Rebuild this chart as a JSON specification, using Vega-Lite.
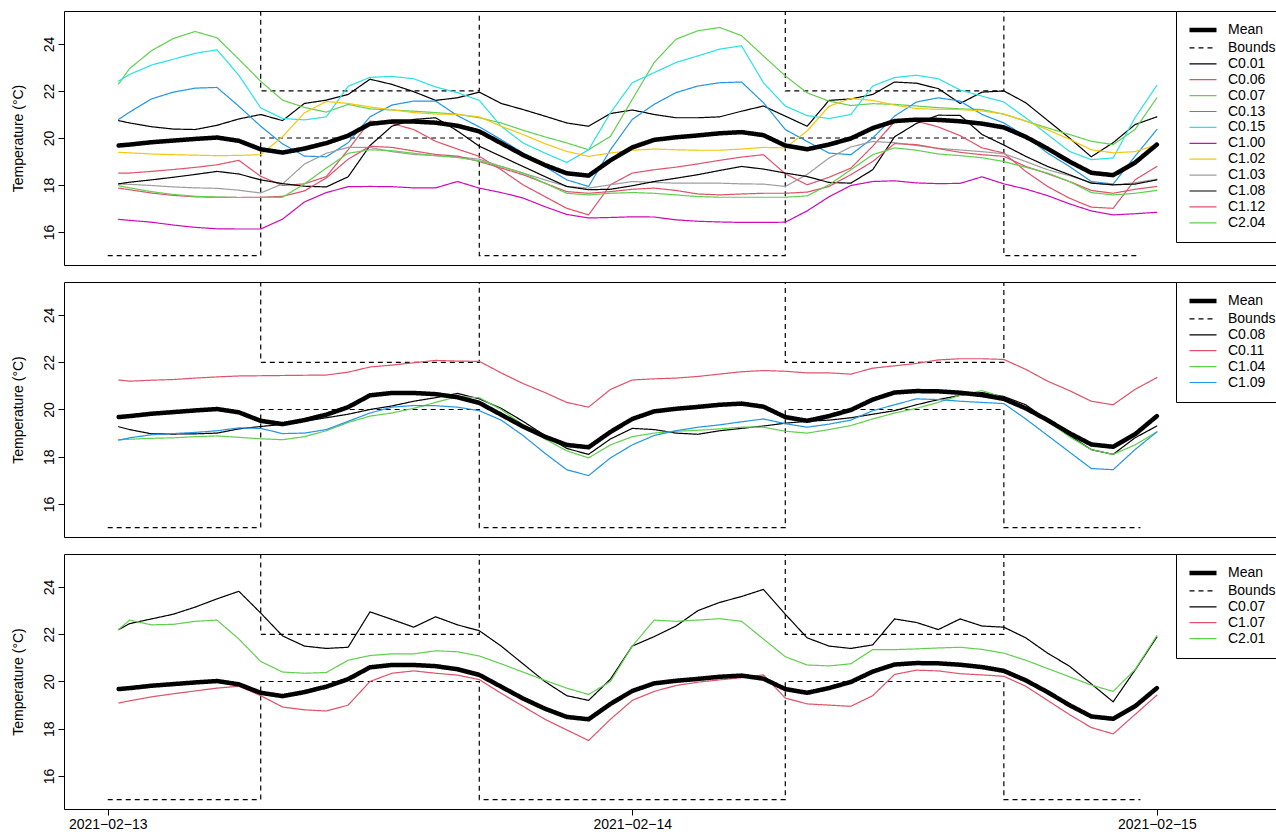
{
"$schema":"https://vega.github.io/schema/vega-lite/v6.json",
"background":"white",
"padding":{"left":10,"top":10,"right":0,"bottom":0},
"spacing":15,
"config":{
"font":"Liberation Sans",
"view":{"stroke":"black","strokeWidth":1},
"axis":{"domain":false,"grid":false,"tickColor":"black","labelColor":"black","titleColor":"black","labelFontSize":14,"titleFontSize":14,"titleFontWeight":"normal","tickSize":6,"labelFont":"Liberation Sans","titleFont":"Liberation Sans"},
"legend":{"orient":"none","legendX":1112,"legendY":0,"fillColor":"white","strokeColor":"black","strokeWidth":1,"padding":12,"labelFontSize":14,"labelFont":"Liberation Sans","labelColor":"black","symbolType":"M-3,0H3","symbolSize":81,"symbolOffset":8,"labelOffset":18,"rowPadding":1.9,"labelLimit":0}
},
"datasets":{
"bounds":[
{"s":"Bounds","p":"lo","h":0,"v":15},{"s":"Bounds","p":"lo","h":7,"v":20},{"s":"Bounds","p":"lo","h":17,"v":15},{"s":"Bounds","p":"lo","h":31,"v":20},{"s":"Bounds","p":"lo","h":41,"v":15},{"s":"Bounds","p":"lo","h":47.25,"v":15},
{"s":"Bounds","p":"up","h":0,"v":30},{"s":"Bounds","p":"up","h":7,"v":22},{"s":"Bounds","p":"up","h":17,"v":30},{"s":"Bounds","p":"up","h":31,"v":22},{"s":"Bounds","p":"up","h":41,"v":30},{"s":"Bounds","p":"up","h":47.25,"v":30}
],
"mean":[
{"s":"Mean","h":0.5,"v":19.68},{"s":"Mean","h":1,"v":19.72},{"s":"Mean","h":2,"v":19.82},{"s":"Mean","h":3,"v":19.89},{"s":"Mean","h":4,"v":19.96},{"s":"Mean","h":5,"v":20.02},{"s":"Mean","h":6,"v":19.88},{"s":"Mean","h":7,"v":19.52},{"s":"Mean","h":8,"v":19.38},{"s":"Mean","h":9,"v":19.55},{"s":"Mean","h":10,"v":19.78},{"s":"Mean","h":11,"v":20.1},{"s":"Mean","h":12,"v":20.6},{"s":"Mean","h":13,"v":20.7},{"s":"Mean","h":14,"v":20.7},{"s":"Mean","h":15,"v":20.65},{"s":"Mean","h":16,"v":20.52},{"s":"Mean","h":17,"v":20.28},{"s":"Mean","h":18,"v":19.78},{"s":"Mean","h":19,"v":19.28},{"s":"Mean","h":20,"v":18.85},{"s":"Mean","h":21,"v":18.5},{"s":"Mean","h":22,"v":18.4},{"s":"Mean","h":23,"v":19.05},{"s":"Mean","h":24,"v":19.6},{"s":"Mean","h":25,"v":19.92},{"s":"Mean","h":26,"v":20.03},{"s":"Mean","h":27,"v":20.11},{"s":"Mean","h":28,"v":20.2},{"s":"Mean","h":29,"v":20.25},{"s":"Mean","h":30,"v":20.12},{"s":"Mean","h":31,"v":19.68},{"s":"Mean","h":32,"v":19.52},{"s":"Mean","h":33,"v":19.72},{"s":"Mean","h":34,"v":19.98},{"s":"Mean","h":35,"v":20.42},{"s":"Mean","h":36,"v":20.72},{"s":"Mean","h":37,"v":20.78},{"s":"Mean","h":38,"v":20.77},{"s":"Mean","h":39,"v":20.71},{"s":"Mean","h":40,"v":20.61},{"s":"Mean","h":41,"v":20.45},{"s":"Mean","h":42,"v":20.05},{"s":"Mean","h":43,"v":19.55},{"s":"Mean","h":44,"v":19.0},{"s":"Mean","h":45,"v":18.52},{"s":"Mean","h":46,"v":18.42},{"s":"Mean","h":47,"v":18.95},{"s":"Mean","h":48,"v":19.72}
],
"p1":[
{"s":"C0.01","h":0.5,"v":20.74},{"s":"C0.01","h":1,"v":20.64},{"s":"C0.01","h":2,"v":20.48},{"s":"C0.01","h":3,"v":20.38},{"s":"C0.01","h":4,"v":20.36},{"s":"C0.01","h":5,"v":20.54},{"s":"C0.01","h":6,"v":20.81},{"s":"C0.01","h":7,"v":21.0},{"s":"C0.01","h":8,"v":20.74},{"s":"C0.01","h":9,"v":21.47},{"s":"C0.01","h":10,"v":21.61},{"s":"C0.01","h":11,"v":21.85},{"s":"C0.01","h":12,"v":22.5},{"s":"C0.01","h":13,"v":22.28},{"s":"C0.01","h":14,"v":21.97},{"s":"C0.01","h":15,"v":21.6},{"s":"C0.01","h":16,"v":21.71},{"s":"C0.01","h":17,"v":21.95},{"s":"C0.01","h":18,"v":21.47},{"s":"C0.01","h":19,"v":21.21},{"s":"C0.01","h":20,"v":20.93},{"s":"C0.01","h":21,"v":20.64},{"s":"C0.01","h":22,"v":20.5},{"s":"C0.01","h":23,"v":21.04},{"s":"C0.01","h":24,"v":21.19},{"s":"C0.01","h":25,"v":21.0},{"s":"C0.01","h":26,"v":20.86},{"s":"C0.01","h":27,"v":20.86},{"s":"C0.01","h":28,"v":20.9},{"s":"C0.01","h":29,"v":21.14},{"s":"C0.01","h":30,"v":21.36},{"s":"C0.01","h":31,"v":20.93},{"s":"C0.01","h":32,"v":20.5},{"s":"C0.01","h":33,"v":21.6},{"s":"C0.01","h":34,"v":21.66},{"s":"C0.01","h":35,"v":21.85},{"s":"C0.01","h":36,"v":22.38},{"s":"C0.01","h":37,"v":22.33},{"s":"C0.01","h":38,"v":22.1},{"s":"C0.01","h":39,"v":21.47},{"s":"C0.01","h":40,"v":21.95},{"s":"C0.01","h":41,"v":22.0},{"s":"C0.01","h":42,"v":21.5},{"s":"C0.01","h":43,"v":20.75},{"s":"C0.01","h":44,"v":20.0},{"s":"C0.01","h":45,"v":19.2},{"s":"C0.01","h":46,"v":19.8},{"s":"C0.01","h":47,"v":20.57},{"s":"C0.01","h":48,"v":20.9},
{"s":"C0.06","h":0.5,"v":18.51},{"s":"C0.06","h":1,"v":18.51},{"s":"C0.06","h":2,"v":18.58},{"s":"C0.06","h":3,"v":18.66},{"s":"C0.06","h":4,"v":18.75},{"s":"C0.06","h":5,"v":18.86},{"s":"C0.06","h":6,"v":19.05},{"s":"C0.06","h":7,"v":18.37},{"s":"C0.06","h":8,"v":17.98},{"s":"C0.06","h":9,"v":18.05},{"s":"C0.06","h":10,"v":18.36},{"s":"C0.06","h":11,"v":19.5},{"s":"C0.06","h":12,"v":20.72},{"s":"C0.06","h":13,"v":20.62},{"s":"C0.06","h":14,"v":20.36},{"s":"C0.06","h":15,"v":19.86},{"s":"C0.06","h":16,"v":19.53},{"s":"C0.06","h":17,"v":19.22},{"s":"C0.06","h":18,"v":18.65},{"s":"C0.06","h":19,"v":18.01},{"s":"C0.06","h":20,"v":17.51},{"s":"C0.06","h":21,"v":17.01},{"s":"C0.06","h":22,"v":16.73},{"s":"C0.06","h":23,"v":18.01},{"s":"C0.06","h":24,"v":18.51},{"s":"C0.06","h":25,"v":18.65},{"s":"C0.06","h":26,"v":18.76},{"s":"C0.06","h":27,"v":18.9},{"s":"C0.06","h":28,"v":19.05},{"s":"C0.06","h":29,"v":19.19},{"s":"C0.06","h":30,"v":19.29},{"s":"C0.06","h":31,"v":18.48},{"s":"C0.06","h":32,"v":18.01},{"s":"C0.06","h":33,"v":18.33},{"s":"C0.06","h":34,"v":18.72},{"s":"C0.06","h":35,"v":19.65},{"s":"C0.06","h":36,"v":20.69},{"s":"C0.06","h":37,"v":20.72},{"s":"C0.06","h":38,"v":20.47},{"s":"C0.06","h":39,"v":20.1},{"s":"C0.06","h":40,"v":19.58},{"s":"C0.06","h":41,"v":19.36},{"s":"C0.06","h":42,"v":18.58},{"s":"C0.06","h":43,"v":17.94},{"s":"C0.06","h":44,"v":17.44},{"s":"C0.06","h":45,"v":17.06},{"s":"C0.06","h":46,"v":17.01},{"s":"C0.06","h":47,"v":18.22},{"s":"C0.06","h":48,"v":18.79},
{"s":"C0.07","h":0.5,"v":22.3},{"s":"C0.07","h":1,"v":22.95},{"s":"C0.07","h":2,"v":23.71},{"s":"C0.07","h":3,"v":24.23},{"s":"C0.07","h":4,"v":24.53},{"s":"C0.07","h":5,"v":24.26},{"s":"C0.07","h":6,"v":23.35},{"s":"C0.07","h":7,"v":22.41},{"s":"C0.07","h":8,"v":21.61},{"s":"C0.07","h":9,"v":21.3},{"s":"C0.07","h":10,"v":21.1},{"s":"C0.07","h":11,"v":21.43},{"s":"C0.07","h":12,"v":21.24},{"s":"C0.07","h":13,"v":21.19},{"s":"C0.07","h":14,"v":21.14},{"s":"C0.07","h":15,"v":21.08},{"s":"C0.07","h":16,"v":21.01},{"s":"C0.07","h":17,"v":20.86},{"s":"C0.07","h":18,"v":20.64},{"s":"C0.07","h":19,"v":20.33},{"s":"C0.07","h":20,"v":20.05},{"s":"C0.07","h":21,"v":19.79},{"s":"C0.07","h":22,"v":19.5},{"s":"C0.07","h":23,"v":20.07},{"s":"C0.07","h":24,"v":21.64},{"s":"C0.07","h":25,"v":23.21},{"s":"C0.07","h":26,"v":24.2},{"s":"C0.07","h":27,"v":24.56},{"s":"C0.07","h":28,"v":24.7},{"s":"C0.07","h":29,"v":24.35},{"s":"C0.07","h":30,"v":23.49},{"s":"C0.07","h":31,"v":22.64},{"s":"C0.07","h":32,"v":21.92},{"s":"C0.07","h":33,"v":21.57},{"s":"C0.07","h":34,"v":21.38},{"s":"C0.07","h":35,"v":21.46},{"s":"C0.07","h":36,"v":21.43},{"s":"C0.07","h":37,"v":21.36},{"s":"C0.07","h":38,"v":21.29},{"s":"C0.07","h":39,"v":21.24},{"s":"C0.07","h":40,"v":21.21},{"s":"C0.07","h":41,"v":21.01},{"s":"C0.07","h":42,"v":20.72},{"s":"C0.07","h":43,"v":20.43},{"s":"C0.07","h":44,"v":20.15},{"s":"C0.07","h":45,"v":19.86},{"s":"C0.07","h":46,"v":19.72},{"s":"C0.07","h":47,"v":20.36},{"s":"C0.07","h":48,"v":21.71},
{"s":"C0.13","h":0.5,"v":20.79},{"s":"C0.13","h":1,"v":21.1},{"s":"C0.13","h":2,"v":21.66},{"s":"C0.13","h":3,"v":21.95},{"s":"C0.13","h":4,"v":22.12},{"s":"C0.13","h":5,"v":22.15},{"s":"C0.13","h":6,"v":21.35},{"s":"C0.13","h":7,"v":20.5},{"s":"C0.13","h":8,"v":19.75},{"s":"C0.13","h":9,"v":19.23},{"s":"C0.13","h":10,"v":19.2},{"s":"C0.13","h":11,"v":19.8},{"s":"C0.13","h":12,"v":20.9},{"s":"C0.13","h":13,"v":21.4},{"s":"C0.13","h":14,"v":21.57},{"s":"C0.13","h":15,"v":21.57},{"s":"C0.13","h":16,"v":20.95},{"s":"C0.13","h":17,"v":20.47},{"s":"C0.13","h":18,"v":19.93},{"s":"C0.13","h":19,"v":19.36},{"s":"C0.13","h":20,"v":18.79},{"s":"C0.13","h":21,"v":18.22},{"s":"C0.13","h":22,"v":17.94},{"s":"C0.13","h":23,"v":19.5},{"s":"C0.13","h":24,"v":20.79},{"s":"C0.13","h":25,"v":21.43},{"s":"C0.13","h":26,"v":21.93},{"s":"C0.13","h":27,"v":22.21},{"s":"C0.13","h":28,"v":22.35},{"s":"C0.13","h":29,"v":22.38},{"s":"C0.13","h":30,"v":21.5},{"s":"C0.13","h":31,"v":20.36},{"s":"C0.13","h":32,"v":19.85},{"s":"C0.13","h":33,"v":19.36},{"s":"C0.13","h":34,"v":19.29},{"s":"C0.13","h":35,"v":20.0},{"s":"C0.13","h":36,"v":20.93},{"s":"C0.13","h":37,"v":21.53},{"s":"C0.13","h":38,"v":21.71},{"s":"C0.13","h":39,"v":21.57},{"s":"C0.13","h":40,"v":21.0},{"s":"C0.13","h":41,"v":20.64},{"s":"C0.13","h":42,"v":20.07},{"s":"C0.13","h":43,"v":19.36},{"s":"C0.13","h":44,"v":18.79},{"s":"C0.13","h":45,"v":18.15},{"s":"C0.13","h":46,"v":18.04},{"s":"C0.13","h":47,"v":19.22},{"s":"C0.13","h":48,"v":20.36},
{"s":"C0.15","h":0.5,"v":22.42},{"s":"C0.15","h":1,"v":22.7},{"s":"C0.15","h":2,"v":23.1},{"s":"C0.15","h":3,"v":23.35},{"s":"C0.15","h":4,"v":23.6},{"s":"C0.15","h":5,"v":23.75},{"s":"C0.15","h":6,"v":22.67},{"s":"C0.15","h":7,"v":21.28},{"s":"C0.15","h":8,"v":20.83},{"s":"C0.15","h":9,"v":20.77},{"s":"C0.15","h":10,"v":20.9},{"s":"C0.15","h":11,"v":22.2},{"s":"C0.15","h":12,"v":22.58},{"s":"C0.15","h":13,"v":22.62},{"s":"C0.15","h":14,"v":22.52},{"s":"C0.15","h":15,"v":22.17},{"s":"C0.15","h":16,"v":21.93},{"s":"C0.15","h":17,"v":21.6},{"s":"C0.15","h":18,"v":20.5},{"s":"C0.15","h":19,"v":19.79},{"s":"C0.15","h":20,"v":19.36},{"s":"C0.15","h":21,"v":18.96},{"s":"C0.15","h":22,"v":19.5},{"s":"C0.15","h":23,"v":21.07},{"s":"C0.15","h":24,"v":22.35},{"s":"C0.15","h":25,"v":22.78},{"s":"C0.15","h":26,"v":23.21},{"s":"C0.15","h":27,"v":23.49},{"s":"C0.15","h":28,"v":23.78},{"s":"C0.15","h":29,"v":23.92},{"s":"C0.15","h":30,"v":22.35},{"s":"C0.15","h":31,"v":21.36},{"s":"C0.15","h":32,"v":20.95},{"s":"C0.15","h":33,"v":20.83},{"s":"C0.15","h":34,"v":21.0},{"s":"C0.15","h":35,"v":22.21},{"s":"C0.15","h":36,"v":22.57},{"s":"C0.15","h":37,"v":22.67},{"s":"C0.15","h":38,"v":22.52},{"s":"C0.15","h":39,"v":22.04},{"s":"C0.15","h":40,"v":21.78},{"s":"C0.15","h":41,"v":21.53},{"s":"C0.15","h":42,"v":20.86},{"s":"C0.15","h":43,"v":20.15},{"s":"C0.15","h":44,"v":19.43},{"s":"C0.15","h":45,"v":19.08},{"s":"C0.15","h":46,"v":19.15},{"s":"C0.15","h":47,"v":20.86},{"s":"C0.15","h":48,"v":22.24},
{"s":"C1.00","h":0.5,"v":16.54},{"s":"C1.00","h":1,"v":16.5},{"s":"C1.00","h":2,"v":16.42},{"s":"C1.00","h":3,"v":16.3},{"s":"C1.00","h":4,"v":16.2},{"s":"C1.00","h":5,"v":16.14},{"s":"C1.00","h":6,"v":16.13},{"s":"C1.00","h":7,"v":16.13},{"s":"C1.00","h":8,"v":16.55},{"s":"C1.00","h":9,"v":17.28},{"s":"C1.00","h":10,"v":17.68},{"s":"C1.00","h":11,"v":17.93},{"s":"C1.00","h":12,"v":17.94},{"s":"C1.00","h":13,"v":17.93},{"s":"C1.00","h":14,"v":17.88},{"s":"C1.00","h":15,"v":17.88},{"s":"C1.00","h":16,"v":18.15},{"s":"C1.00","h":17,"v":17.87},{"s":"C1.00","h":18,"v":17.68},{"s":"C1.00","h":19,"v":17.45},{"s":"C1.00","h":20,"v":17.08},{"s":"C1.00","h":21,"v":16.75},{"s":"C1.00","h":22,"v":16.6},{"s":"C1.00","h":23,"v":16.62},{"s":"C1.00","h":24,"v":16.65},{"s":"C1.00","h":25,"v":16.64},{"s":"C1.00","h":26,"v":16.52},{"s":"C1.00","h":27,"v":16.46},{"s":"C1.00","h":28,"v":16.43},{"s":"C1.00","h":29,"v":16.41},{"s":"C1.00","h":30,"v":16.41},{"s":"C1.00","h":31,"v":16.42},{"s":"C1.00","h":32,"v":16.9},{"s":"C1.00","h":33,"v":17.5},{"s":"C1.00","h":34,"v":17.98},{"s":"C1.00","h":35,"v":18.15},{"s":"C1.00","h":36,"v":18.18},{"s":"C1.00","h":37,"v":18.09},{"s":"C1.00","h":38,"v":18.06},{"s":"C1.00","h":39,"v":18.07},{"s":"C1.00","h":40,"v":18.35},{"s":"C1.00","h":41,"v":18.05},{"s":"C1.00","h":42,"v":17.83},{"s":"C1.00","h":43,"v":17.55},{"s":"C1.00","h":44,"v":17.2},{"s":"C1.00","h":45,"v":16.9},{"s":"C1.00","h":46,"v":16.73},{"s":"C1.00","h":47,"v":16.78},{"s":"C1.00","h":48,"v":16.84},
{"s":"C1.02","h":0.5,"v":19.39},{"s":"C1.02","h":1,"v":19.37},{"s":"C1.02","h":2,"v":19.32},{"s":"C1.02","h":3,"v":19.29},{"s":"C1.02","h":4,"v":19.27},{"s":"C1.02","h":5,"v":19.25},{"s":"C1.02","h":6,"v":19.26},{"s":"C1.02","h":7,"v":19.29},{"s":"C1.02","h":8,"v":20.06},{"s":"C1.02","h":9,"v":21.07},{"s":"C1.02","h":10,"v":21.55},{"s":"C1.02","h":11,"v":21.47},{"s":"C1.02","h":12,"v":21.32},{"s":"C1.02","h":13,"v":21.2},{"s":"C1.02","h":14,"v":21.08},{"s":"C1.02","h":15,"v":21.02},{"s":"C1.02","h":16,"v":21.0},{"s":"C1.02","h":17,"v":20.9},{"s":"C1.02","h":18,"v":20.5},{"s":"C1.02","h":19,"v":20.15},{"s":"C1.02","h":20,"v":19.76},{"s":"C1.02","h":21,"v":19.43},{"s":"C1.02","h":22,"v":19.22},{"s":"C1.02","h":23,"v":19.36},{"s":"C1.02","h":24,"v":19.48},{"s":"C1.02","h":25,"v":19.53},{"s":"C1.02","h":26,"v":19.5},{"s":"C1.02","h":27,"v":19.48},{"s":"C1.02","h":28,"v":19.48},{"s":"C1.02","h":29,"v":19.53},{"s":"C1.02","h":30,"v":19.6},{"s":"C1.02","h":31,"v":19.58},{"s":"C1.02","h":32,"v":20.3},{"s":"C1.02","h":33,"v":21.35},{"s":"C1.02","h":34,"v":21.68},{"s":"C1.02","h":35,"v":21.6},{"s":"C1.02","h":36,"v":21.4},{"s":"C1.02","h":37,"v":21.25},{"s":"C1.02","h":38,"v":21.22},{"s":"C1.02","h":39,"v":21.21},{"s":"C1.02","h":40,"v":21.15},{"s":"C1.02","h":41,"v":21.02},{"s":"C1.02","h":42,"v":20.72},{"s":"C1.02","h":43,"v":20.35},{"s":"C1.02","h":44,"v":19.95},{"s":"C1.02","h":45,"v":19.5},{"s":"C1.02","h":46,"v":19.37},{"s":"C1.02","h":47,"v":19.42},{"s":"C1.02","h":48,"v":19.72},
{"s":"C1.03","h":0.5,"v":18.05},{"s":"C1.03","h":1,"v":18.03},{"s":"C1.03","h":2,"v":17.98},{"s":"C1.03","h":3,"v":17.92},{"s":"C1.03","h":4,"v":17.88},{"s":"C1.03","h":5,"v":17.86},{"s":"C1.03","h":6,"v":17.78},{"s":"C1.03","h":7,"v":17.66},{"s":"C1.03","h":8,"v":18.05},{"s":"C1.03","h":9,"v":18.89},{"s":"C1.03","h":10,"v":19.35},{"s":"C1.03","h":11,"v":19.6},{"s":"C1.03","h":12,"v":19.6},{"s":"C1.03","h":13,"v":19.42},{"s":"C1.03","h":14,"v":19.3},{"s":"C1.03","h":15,"v":19.25},{"s":"C1.03","h":16,"v":19.2},{"s":"C1.03","h":17,"v":19.1},{"s":"C1.03","h":18,"v":18.79},{"s":"C1.03","h":19,"v":18.51},{"s":"C1.03","h":20,"v":18.22},{"s":"C1.03","h":21,"v":17.94},{"s":"C1.03","h":22,"v":17.87},{"s":"C1.03","h":23,"v":18.01},{"s":"C1.03","h":24,"v":18.15},{"s":"C1.03","h":25,"v":18.11},{"s":"C1.03","h":26,"v":18.08},{"s":"C1.03","h":27,"v":18.08},{"s":"C1.03","h":28,"v":18.08},{"s":"C1.03","h":29,"v":18.05},{"s":"C1.03","h":30,"v":18.04},{"s":"C1.03","h":31,"v":17.94},{"s":"C1.03","h":32,"v":18.45},{"s":"C1.03","h":33,"v":19.15},{"s":"C1.03","h":34,"v":19.62},{"s":"C1.03","h":35,"v":19.85},{"s":"C1.03","h":36,"v":19.8},{"s":"C1.03","h":37,"v":19.68},{"s":"C1.03","h":38,"v":19.56},{"s":"C1.03","h":39,"v":19.49},{"s":"C1.03","h":40,"v":19.42},{"s":"C1.03","h":41,"v":19.33},{"s":"C1.03","h":42,"v":19.0},{"s":"C1.03","h":43,"v":18.65},{"s":"C1.03","h":44,"v":18.4},{"s":"C1.03","h":45,"v":18.1},{"s":"C1.03","h":46,"v":18.0},{"s":"C1.03","h":47,"v":18.1},{"s":"C1.03","h":48,"v":18.25},
{"s":"C1.08","h":0.5,"v":18.05},{"s":"C1.08","h":1,"v":18.12},{"s":"C1.08","h":2,"v":18.22},{"s":"C1.08","h":3,"v":18.33},{"s":"C1.08","h":4,"v":18.45},{"s":"C1.08","h":5,"v":18.58},{"s":"C1.08","h":6,"v":18.47},{"s":"C1.08","h":7,"v":18.22},{"s":"C1.08","h":8,"v":18.06},{"s":"C1.08","h":9,"v":17.95},{"s":"C1.08","h":10,"v":17.92},{"s":"C1.08","h":11,"v":18.35},{"s":"C1.08","h":12,"v":19.68},{"s":"C1.08","h":13,"v":20.5},{"s":"C1.08","h":14,"v":20.79},{"s":"C1.08","h":15,"v":20.86},{"s":"C1.08","h":16,"v":20.3},{"s":"C1.08","h":17,"v":19.65},{"s":"C1.08","h":18,"v":19.22},{"s":"C1.08","h":19,"v":18.79},{"s":"C1.08","h":20,"v":18.36},{"s":"C1.08","h":21,"v":17.94},{"s":"C1.08","h":22,"v":17.8},{"s":"C1.08","h":23,"v":17.82},{"s":"C1.08","h":24,"v":17.97},{"s":"C1.08","h":25,"v":18.15},{"s":"C1.08","h":26,"v":18.29},{"s":"C1.08","h":27,"v":18.44},{"s":"C1.08","h":28,"v":18.62},{"s":"C1.08","h":29,"v":18.79},{"s":"C1.08","h":30,"v":18.68},{"s":"C1.08","h":31,"v":18.51},{"s":"C1.08","h":32,"v":18.36},{"s":"C1.08","h":33,"v":18.11},{"s":"C1.08","h":34,"v":18.08},{"s":"C1.08","h":35,"v":18.65},{"s":"C1.08","h":36,"v":20.05},{"s":"C1.08","h":37,"v":20.62},{"s":"C1.08","h":38,"v":20.97},{"s":"C1.08","h":39,"v":20.96},{"s":"C1.08","h":40,"v":20.15},{"s":"C1.08","h":41,"v":19.7},{"s":"C1.08","h":42,"v":19.22},{"s":"C1.08","h":43,"v":18.79},{"s":"C1.08","h":44,"v":18.44},{"s":"C1.08","h":45,"v":18.08},{"s":"C1.08","h":46,"v":18.01},{"s":"C1.08","h":47,"v":18.04},{"s":"C1.08","h":48,"v":18.22},
{"s":"C1.12","h":0.5,"v":17.87},{"s":"C1.12","h":1,"v":17.8},{"s":"C1.12","h":2,"v":17.66},{"s":"C1.12","h":3,"v":17.56},{"s":"C1.12","h":4,"v":17.5},{"s":"C1.12","h":5,"v":17.48},{"s":"C1.12","h":6,"v":17.47},{"s":"C1.12","h":7,"v":17.48},{"s":"C1.12","h":8,"v":17.52},{"s":"C1.12","h":9,"v":17.75},{"s":"C1.12","h":10,"v":18.3},{"s":"C1.12","h":11,"v":19.1},{"s":"C1.12","h":12,"v":19.65},{"s":"C1.12","h":13,"v":19.6},{"s":"C1.12","h":14,"v":19.45},{"s":"C1.12","h":15,"v":19.3},{"s":"C1.12","h":16,"v":19.23},{"s":"C1.12","h":17,"v":19.0},{"s":"C1.12","h":18,"v":18.72},{"s":"C1.12","h":19,"v":18.44},{"s":"C1.12","h":20,"v":18.08},{"s":"C1.12","h":21,"v":17.72},{"s":"C1.12","h":22,"v":17.65},{"s":"C1.12","h":23,"v":17.72},{"s":"C1.12","h":24,"v":17.82},{"s":"C1.12","h":25,"v":17.87},{"s":"C1.12","h":26,"v":17.77},{"s":"C1.12","h":27,"v":17.62},{"s":"C1.12","h":28,"v":17.58},{"s":"C1.12","h":29,"v":17.62},{"s":"C1.12","h":30,"v":17.65},{"s":"C1.12","h":31,"v":17.65},{"s":"C1.12","h":32,"v":17.7},{"s":"C1.12","h":33,"v":17.94},{"s":"C1.12","h":34,"v":18.44},{"s":"C1.12","h":35,"v":19.0},{"s":"C1.12","h":36,"v":19.76},{"s":"C1.12","h":37,"v":19.72},{"s":"C1.12","h":38,"v":19.55},{"s":"C1.12","h":39,"v":19.39},{"s":"C1.12","h":40,"v":19.29},{"s":"C1.12","h":41,"v":19.22},{"s":"C1.12","h":42,"v":18.79},{"s":"C1.12","h":43,"v":18.48},{"s":"C1.12","h":44,"v":18.15},{"s":"C1.12","h":45,"v":17.77},{"s":"C1.12","h":46,"v":17.65},{"s":"C1.12","h":47,"v":17.82},{"s":"C1.12","h":48,"v":17.94},
{"s":"C2.04","h":0.5,"v":17.97},{"s":"C2.04","h":1,"v":17.88},{"s":"C2.04","h":2,"v":17.72},{"s":"C2.04","h":3,"v":17.6},{"s":"C2.04","h":4,"v":17.52},{"s":"C2.04","h":5,"v":17.49},{"s":"C2.04","h":6,"v":17.47},{"s":"C2.04","h":7,"v":17.47},{"s":"C2.04","h":8,"v":17.48},{"s":"C2.04","h":9,"v":18.05},{"s":"C2.04","h":10,"v":18.72},{"s":"C2.04","h":11,"v":19.35},{"s":"C2.04","h":12,"v":19.5},{"s":"C2.04","h":13,"v":19.46},{"s":"C2.04","h":14,"v":19.35},{"s":"C2.04","h":15,"v":19.25},{"s":"C2.04","h":16,"v":19.17},{"s":"C2.04","h":17,"v":19.03},{"s":"C2.04","h":18,"v":18.79},{"s":"C2.04","h":19,"v":18.51},{"s":"C2.04","h":20,"v":18.08},{"s":"C2.04","h":21,"v":17.65},{"s":"C2.04","h":22,"v":17.58},{"s":"C2.04","h":23,"v":17.65},{"s":"C2.04","h":24,"v":17.68},{"s":"C2.04","h":25,"v":17.65},{"s":"C2.04","h":26,"v":17.58},{"s":"C2.04","h":27,"v":17.51},{"s":"C2.04","h":28,"v":17.48},{"s":"C2.04","h":29,"v":17.48},{"s":"C2.04","h":30,"v":17.48},{"s":"C2.04","h":31,"v":17.48},{"s":"C2.04","h":32,"v":17.54},{"s":"C2.04","h":33,"v":18.01},{"s":"C2.04","h":34,"v":18.65},{"s":"C2.04","h":35,"v":19.29},{"s":"C2.04","h":36,"v":19.58},{"s":"C2.04","h":37,"v":19.48},{"s":"C2.04","h":38,"v":19.32},{"s":"C2.04","h":39,"v":19.25},{"s":"C2.04","h":40,"v":19.16},{"s":"C2.04","h":41,"v":19.0},{"s":"C2.04","h":42,"v":18.76},{"s":"C2.04","h":43,"v":18.51},{"s":"C2.04","h":44,"v":18.15},{"s":"C2.04","h":45,"v":17.68},{"s":"C2.04","h":46,"v":17.58},{"s":"C2.04","h":47,"v":17.65},{"s":"C2.04","h":48,"v":17.77}
],
"p2":[
{"s":"C0.08","h":0.5,"v":19.27},{"s":"C0.08","h":1,"v":19.15},{"s":"C0.08","h":2,"v":18.97},{"s":"C0.08","h":3,"v":18.96},{"s":"C0.08","h":4,"v":18.97},{"s":"C0.08","h":5,"v":19.0},{"s":"C0.08","h":6,"v":19.18},{"s":"C0.08","h":7,"v":19.28},{"s":"C0.08","h":8,"v":19.37},{"s":"C0.08","h":9,"v":19.5},{"s":"C0.08","h":10,"v":19.65},{"s":"C0.08","h":11,"v":19.8},{"s":"C0.08","h":12,"v":20.0},{"s":"C0.08","h":13,"v":20.15},{"s":"C0.08","h":14,"v":20.35},{"s":"C0.08","h":15,"v":20.5},{"s":"C0.08","h":16,"v":20.68},{"s":"C0.08","h":17,"v":20.45},{"s":"C0.08","h":18,"v":20.05},{"s":"C0.08","h":19,"v":19.5},{"s":"C0.08","h":20,"v":18.9},{"s":"C0.08","h":21,"v":18.35},{"s":"C0.08","h":22,"v":18.1},{"s":"C0.08","h":23,"v":18.75},{"s":"C0.08","h":24,"v":19.2},{"s":"C0.08","h":25,"v":19.15},{"s":"C0.08","h":26,"v":19.0},{"s":"C0.08","h":27,"v":18.95},{"s":"C0.08","h":28,"v":19.1},{"s":"C0.08","h":29,"v":19.2},{"s":"C0.08","h":30,"v":19.3},{"s":"C0.08","h":31,"v":19.42},{"s":"C0.08","h":32,"v":19.5},{"s":"C0.08","h":33,"v":19.55},{"s":"C0.08","h":34,"v":19.65},{"s":"C0.08","h":35,"v":19.8},{"s":"C0.08","h":36,"v":19.95},{"s":"C0.08","h":37,"v":20.2},{"s":"C0.08","h":38,"v":20.42},{"s":"C0.08","h":39,"v":20.6},{"s":"C0.08","h":40,"v":20.72},{"s":"C0.08","h":41,"v":20.55},{"s":"C0.08","h":42,"v":20.2},{"s":"C0.08","h":43,"v":19.55},{"s":"C0.08","h":44,"v":18.9},{"s":"C0.08","h":45,"v":18.3},{"s":"C0.08","h":46,"v":18.1},{"s":"C0.08","h":47,"v":18.8},{"s":"C0.08","h":48,"v":19.3},
{"s":"C0.11","h":0.5,"v":21.25},{"s":"C0.11","h":1,"v":21.2},{"s":"C0.11","h":2,"v":21.24},{"s":"C0.11","h":3,"v":21.27},{"s":"C0.11","h":4,"v":21.33},{"s":"C0.11","h":5,"v":21.38},{"s":"C0.11","h":6,"v":21.42},{"s":"C0.11","h":7,"v":21.43},{"s":"C0.11","h":8,"v":21.44},{"s":"C0.11","h":9,"v":21.45},{"s":"C0.11","h":10,"v":21.46},{"s":"C0.11","h":11,"v":21.58},{"s":"C0.11","h":12,"v":21.8},{"s":"C0.11","h":13,"v":21.88},{"s":"C0.11","h":14,"v":21.98},{"s":"C0.11","h":15,"v":22.08},{"s":"C0.11","h":16,"v":22.05},{"s":"C0.11","h":17,"v":22.04},{"s":"C0.11","h":18,"v":21.55},{"s":"C0.11","h":19,"v":21.1},{"s":"C0.11","h":20,"v":20.72},{"s":"C0.11","h":21,"v":20.3},{"s":"C0.11","h":22,"v":20.1},{"s":"C0.11","h":23,"v":20.85},{"s":"C0.11","h":24,"v":21.25},{"s":"C0.11","h":25,"v":21.3},{"s":"C0.11","h":26,"v":21.33},{"s":"C0.11","h":27,"v":21.4},{"s":"C0.11","h":28,"v":21.5},{"s":"C0.11","h":29,"v":21.6},{"s":"C0.11","h":30,"v":21.65},{"s":"C0.11","h":31,"v":21.62},{"s":"C0.11","h":32,"v":21.55},{"s":"C0.11","h":33,"v":21.55},{"s":"C0.11","h":34,"v":21.5},{"s":"C0.11","h":35,"v":21.75},{"s":"C0.11","h":36,"v":21.85},{"s":"C0.11","h":37,"v":21.95},{"s":"C0.11","h":38,"v":22.1},{"s":"C0.11","h":39,"v":22.15},{"s":"C0.11","h":40,"v":22.15},{"s":"C0.11","h":41,"v":22.12},{"s":"C0.11","h":42,"v":21.7},{"s":"C0.11","h":43,"v":21.2},{"s":"C0.11","h":44,"v":20.8},{"s":"C0.11","h":45,"v":20.35},{"s":"C0.11","h":46,"v":20.2},{"s":"C0.11","h":47,"v":20.85},{"s":"C0.11","h":48,"v":21.35},
{"s":"C1.04","h":0.5,"v":18.72},{"s":"C1.04","h":1,"v":18.74},{"s":"C1.04","h":2,"v":18.78},{"s":"C1.04","h":3,"v":18.8},{"s":"C1.04","h":4,"v":18.85},{"s":"C1.04","h":5,"v":18.88},{"s":"C1.04","h":6,"v":18.82},{"s":"C1.04","h":7,"v":18.76},{"s":"C1.04","h":8,"v":18.72},{"s":"C1.04","h":9,"v":18.85},{"s":"C1.04","h":10,"v":19.1},{"s":"C1.04","h":11,"v":19.45},{"s":"C1.04","h":12,"v":19.72},{"s":"C1.04","h":13,"v":19.85},{"s":"C1.04","h":14,"v":20.05},{"s":"C1.04","h":15,"v":20.3},{"s":"C1.04","h":16,"v":20.55},{"s":"C1.04","h":17,"v":20.5},{"s":"C1.04","h":18,"v":20.0},{"s":"C1.04","h":19,"v":19.35},{"s":"C1.04","h":20,"v":18.75},{"s":"C1.04","h":21,"v":18.25},{"s":"C1.04","h":22,"v":17.95},{"s":"C1.04","h":23,"v":18.5},{"s":"C1.04","h":24,"v":18.85},{"s":"C1.04","h":25,"v":19.0},{"s":"C1.04","h":26,"v":19.08},{"s":"C1.04","h":27,"v":19.12},{"s":"C1.04","h":28,"v":19.18},{"s":"C1.04","h":29,"v":19.25},{"s":"C1.04","h":30,"v":19.25},{"s":"C1.04","h":31,"v":19.08},{"s":"C1.04","h":32,"v":19.0},{"s":"C1.04","h":33,"v":19.15},{"s":"C1.04","h":34,"v":19.32},{"s":"C1.04","h":35,"v":19.6},{"s":"C1.04","h":36,"v":19.85},{"s":"C1.04","h":37,"v":20.05},{"s":"C1.04","h":38,"v":20.3},{"s":"C1.04","h":39,"v":20.6},{"s":"C1.04","h":40,"v":20.8},{"s":"C1.04","h":41,"v":20.5},{"s":"C1.04","h":42,"v":20.0},{"s":"C1.04","h":43,"v":19.5},{"s":"C1.04","h":44,"v":18.85},{"s":"C1.04","h":45,"v":18.3},{"s":"C1.04","h":46,"v":18.1},{"s":"C1.04","h":47,"v":18.5},{"s":"C1.04","h":48,"v":19.05},
{"s":"C1.09","h":0.5,"v":18.7},{"s":"C1.09","h":1,"v":18.8},{"s":"C1.09","h":2,"v":18.93},{"s":"C1.09","h":3,"v":18.98},{"s":"C1.09","h":4,"v":19.03},{"s":"C1.09","h":5,"v":19.1},{"s":"C1.09","h":6,"v":19.22},{"s":"C1.09","h":7,"v":19.2},{"s":"C1.09","h":8,"v":18.98},{"s":"C1.09","h":9,"v":19.0},{"s":"C1.09","h":10,"v":19.15},{"s":"C1.09","h":11,"v":19.5},{"s":"C1.09","h":12,"v":19.85},{"s":"C1.09","h":13,"v":20.1},{"s":"C1.09","h":14,"v":20.17},{"s":"C1.09","h":15,"v":20.16},{"s":"C1.09","h":16,"v":20.1},{"s":"C1.09","h":17,"v":19.95},{"s":"C1.09","h":18,"v":19.55},{"s":"C1.09","h":19,"v":18.9},{"s":"C1.09","h":20,"v":18.15},{"s":"C1.09","h":21,"v":17.45},{"s":"C1.09","h":22,"v":17.2},{"s":"C1.09","h":23,"v":17.95},{"s":"C1.09","h":24,"v":18.5},{"s":"C1.09","h":25,"v":18.9},{"s":"C1.09","h":26,"v":19.1},{"s":"C1.09","h":27,"v":19.25},{"s":"C1.09","h":28,"v":19.35},{"s":"C1.09","h":29,"v":19.48},{"s":"C1.09","h":30,"v":19.6},{"s":"C1.09","h":31,"v":19.4},{"s":"C1.09","h":32,"v":19.25},{"s":"C1.09","h":33,"v":19.38},{"s":"C1.09","h":34,"v":19.55},{"s":"C1.09","h":35,"v":19.95},{"s":"C1.09","h":36,"v":20.2},{"s":"C1.09","h":37,"v":20.45},{"s":"C1.09","h":38,"v":20.42},{"s":"C1.09","h":39,"v":20.35},{"s":"C1.09","h":40,"v":20.3},{"s":"C1.09","h":41,"v":20.25},{"s":"C1.09","h":42,"v":19.6},{"s":"C1.09","h":43,"v":18.9},{"s":"C1.09","h":44,"v":18.2},{"s":"C1.09","h":45,"v":17.5},{"s":"C1.09","h":46,"v":17.45},{"s":"C1.09","h":47,"v":18.3},{"s":"C1.09","h":48,"v":19.05}
],
"p3":[
{"s":"C0.07","h":0.5,"v":22.2},{"s":"C0.07","h":1,"v":22.45},{"s":"C0.07","h":2,"v":22.65},{"s":"C0.07","h":3,"v":22.85},{"s":"C0.07","h":4,"v":23.15},{"s":"C0.07","h":5,"v":23.5},{"s":"C0.07","h":6,"v":23.82},{"s":"C0.07","h":7,"v":22.9},{"s":"C0.07","h":8,"v":21.93},{"s":"C0.07","h":9,"v":21.5},{"s":"C0.07","h":10,"v":21.4},{"s":"C0.07","h":11,"v":21.45},{"s":"C0.07","h":12,"v":22.95},{"s":"C0.07","h":13,"v":22.63},{"s":"C0.07","h":14,"v":22.3},{"s":"C0.07","h":15,"v":22.74},{"s":"C0.07","h":16,"v":22.4},{"s":"C0.07","h":17,"v":22.15},{"s":"C0.07","h":18,"v":21.5},{"s":"C0.07","h":19,"v":20.75},{"s":"C0.07","h":20,"v":20.0},{"s":"C0.07","h":21,"v":19.4},{"s":"C0.07","h":22,"v":19.2},{"s":"C0.07","h":23,"v":20.1},{"s":"C0.07","h":24,"v":21.5},{"s":"C0.07","h":25,"v":21.9},{"s":"C0.07","h":26,"v":22.35},{"s":"C0.07","h":27,"v":23.0},{"s":"C0.07","h":28,"v":23.35},{"s":"C0.07","h":29,"v":23.6},{"s":"C0.07","h":30,"v":23.9},{"s":"C0.07","h":31,"v":22.85},{"s":"C0.07","h":32,"v":21.85},{"s":"C0.07","h":33,"v":21.5},{"s":"C0.07","h":34,"v":21.4},{"s":"C0.07","h":35,"v":21.55},{"s":"C0.07","h":36,"v":22.65},{"s":"C0.07","h":37,"v":22.5},{"s":"C0.07","h":38,"v":22.2},{"s":"C0.07","h":39,"v":22.65},{"s":"C0.07","h":40,"v":22.35},{"s":"C0.07","h":41,"v":22.3},{"s":"C0.07","h":42,"v":21.85},{"s":"C0.07","h":43,"v":21.2},{"s":"C0.07","h":44,"v":20.65},{"s":"C0.07","h":45,"v":19.9},{"s":"C0.07","h":46,"v":19.14},{"s":"C0.07","h":47,"v":20.48},{"s":"C0.07","h":48,"v":21.88},
{"s":"C1.07","h":0.5,"v":19.09},{"s":"C1.07","h":1,"v":19.18},{"s":"C1.07","h":2,"v":19.35},{"s":"C1.07","h":3,"v":19.48},{"s":"C1.07","h":4,"v":19.6},{"s":"C1.07","h":5,"v":19.72},{"s":"C1.07","h":6,"v":19.8},{"s":"C1.07","h":7,"v":19.4},{"s":"C1.07","h":8,"v":18.92},{"s":"C1.07","h":9,"v":18.8},{"s":"C1.07","h":10,"v":18.75},{"s":"C1.07","h":11,"v":19.0},{"s":"C1.07","h":12,"v":20.0},{"s":"C1.07","h":13,"v":20.35},{"s":"C1.07","h":14,"v":20.45},{"s":"C1.07","h":15,"v":20.35},{"s":"C1.07","h":16,"v":20.27},{"s":"C1.07","h":17,"v":20.08},{"s":"C1.07","h":18,"v":19.5},{"s":"C1.07","h":19,"v":18.95},{"s":"C1.07","h":20,"v":18.4},{"s":"C1.07","h":21,"v":17.95},{"s":"C1.07","h":22,"v":17.5},{"s":"C1.07","h":23,"v":18.4},{"s":"C1.07","h":24,"v":19.2},{"s":"C1.07","h":25,"v":19.58},{"s":"C1.07","h":26,"v":19.83},{"s":"C1.07","h":27,"v":19.97},{"s":"C1.07","h":28,"v":20.07},{"s":"C1.07","h":29,"v":20.16},{"s":"C1.07","h":30,"v":20.28},{"s":"C1.07","h":31,"v":19.3},{"s":"C1.07","h":32,"v":19.05},{"s":"C1.07","h":33,"v":19.0},{"s":"C1.07","h":34,"v":18.95},{"s":"C1.07","h":35,"v":19.4},{"s":"C1.07","h":36,"v":20.3},{"s":"C1.07","h":37,"v":20.48},{"s":"C1.07","h":38,"v":20.45},{"s":"C1.07","h":39,"v":20.33},{"s":"C1.07","h":40,"v":20.28},{"s":"C1.07","h":41,"v":20.22},{"s":"C1.07","h":42,"v":19.8},{"s":"C1.07","h":43,"v":19.2},{"s":"C1.07","h":44,"v":18.6},{"s":"C1.07","h":45,"v":18.05},{"s":"C1.07","h":46,"v":17.78},{"s":"C1.07","h":47,"v":18.6},{"s":"C1.07","h":48,"v":19.42},
{"s":"C2.01","h":0.5,"v":22.2},{"s":"C2.01","h":1,"v":22.6},{"s":"C2.01","h":2,"v":22.4},{"s":"C2.01","h":3,"v":22.42},{"s":"C2.01","h":4,"v":22.55},{"s":"C2.01","h":5,"v":22.6},{"s":"C2.01","h":6,"v":21.8},{"s":"C2.01","h":7,"v":20.85},{"s":"C2.01","h":8,"v":20.4},{"s":"C2.01","h":9,"v":20.35},{"s":"C2.01","h":10,"v":20.38},{"s":"C2.01","h":11,"v":20.9},{"s":"C2.01","h":12,"v":21.1},{"s":"C2.01","h":13,"v":21.17},{"s":"C2.01","h":14,"v":21.17},{"s":"C2.01","h":15,"v":21.3},{"s":"C2.01","h":16,"v":21.26},{"s":"C2.01","h":17,"v":21.08},{"s":"C2.01","h":18,"v":20.75},{"s":"C2.01","h":19,"v":20.4},{"s":"C2.01","h":20,"v":20.05},{"s":"C2.01","h":21,"v":19.72},{"s":"C2.01","h":22,"v":19.45},{"s":"C2.01","h":23,"v":20.0},{"s":"C2.01","h":24,"v":21.5},{"s":"C2.01","h":25,"v":22.6},{"s":"C2.01","h":26,"v":22.55},{"s":"C2.01","h":27,"v":22.6},{"s":"C2.01","h":28,"v":22.66},{"s":"C2.01","h":29,"v":22.55},{"s":"C2.01","h":30,"v":21.8},{"s":"C2.01","h":31,"v":21.05},{"s":"C2.01","h":32,"v":20.7},{"s":"C2.01","h":33,"v":20.66},{"s":"C2.01","h":34,"v":20.75},{"s":"C2.01","h":35,"v":21.35},{"s":"C2.01","h":36,"v":21.35},{"s":"C2.01","h":37,"v":21.38},{"s":"C2.01","h":38,"v":21.42},{"s":"C2.01","h":39,"v":21.45},{"s":"C2.01","h":40,"v":21.36},{"s":"C2.01","h":41,"v":21.2},{"s":"C2.01","h":42,"v":20.9},{"s":"C2.01","h":43,"v":20.55},{"s":"C2.01","h":44,"v":20.2},{"s":"C2.01","h":45,"v":19.85},{"s":"C2.01","h":46,"v":19.58},{"s":"C2.01","h":47,"v":20.5},{"s":"C2.01","h":48,"v":21.94}
]
},
"resolve":{"scale":{"color":"independent","strokeDash":"independent","strokeWidth":"independent","x":"independent","y":"independent"},"legend":{"color":"independent","strokeDash":"independent","strokeWidth":"independent"}},
"vconcat":[
{"width":1224,"height":254,
"encoding":{
"x":{"field":"h","type":"quantitative","scale":{"domain":[-2,54],"nice":false,"zero":false},"axis":null},
"y":{"field":"v","type":"quantitative","scale":{"domain":[14.6,25.4],"nice":false,"zero":false},"axis":{"values":[16,18,20,22,24],"title":"Temperature (°C)","labelAngle":-90,"labelAlign":"center","labelBaseline":"alphabetic","labelPadding":5,"titlePadding":17}},
"color":{"field":"s","type":"nominal","scale":{"domain":["Mean","Bounds","C0.01","C0.06","C0.07","C0.13","C0.15","C1.00","C1.02","C1.03","C1.08","C1.12","C2.04"],"range":["#000000","#000000","#000000","#DF536B","#61D04F","#2297E6","#28E2E5","#CD0BBC","#F5C710","#9E9E9E","#000000","#DF536B","#61D04F"]},"legend":{"title":null}},
"strokeDash":{"field":"s","type":"nominal","scale":{"domain":["Mean","Bounds","C0.01","C0.06","C0.07","C0.13","C0.15","C1.00","C1.02","C1.03","C1.08","C1.12","C2.04"],"range":[[1,0],[5,4],[1,0],[1,0],[1,0],[1,0],[1,0],[1,0],[1,0],[1,0],[1,0],[1,0],[1,0]]},"legend":{"title":null}},
"strokeWidth":{"field":"s","type":"nominal","scale":{"type":"ordinal","domain":["Mean","Bounds","C0.01","C0.06","C0.07","C0.13","C0.15","C1.00","C1.02","C1.03","C1.08","C1.12","C2.04"],"range":[4.5,1.2,1.2,1.2,1.2,1.2,1.2,1.2,1.2,1.2,1.2,1.2,1.2]},"legend":{"title":null}}
},
"layer":[
{"data":{"name":"bounds"},"mark":{"type":"line","interpolate":"step-after","clip":true},"encoding":{"detail":{"field":"p"}}},
{"data":{"name":"p1"},"mark":{"type":"line","strokeJoin":"round","strokeCap":"round"},"encoding":{}},
{"data":{"name":"mean"},"mark":{"type":"line","strokeJoin":"round","strokeCap":"round"},"encoding":{}}
]},
{"width":1224,"height":255,
"encoding":{
"x":{"field":"h","type":"quantitative","scale":{"domain":[-2,54],"nice":false,"zero":false},"axis":null},
"y":{"field":"v","type":"quantitative","scale":{"domain":[14.6,25.4],"nice":false,"zero":false},"axis":{"values":[16,18,20,22,24],"title":"Temperature (°C)","labelAngle":-90,"labelAlign":"center","labelBaseline":"alphabetic","labelPadding":5,"titlePadding":17}},
"color":{"field":"s","type":"nominal","scale":{"domain":["Mean","Bounds","C0.08","C0.11","C1.04","C1.09"],"range":["#000000","#000000","#000000","#DF536B","#61D04F","#2297E6"]},"legend":{"title":null}},
"strokeDash":{"field":"s","type":"nominal","scale":{"domain":["Mean","Bounds","C0.08","C0.11","C1.04","C1.09"],"range":[[1,0],[5,4],[1,0],[1,0],[1,0],[1,0]]},"legend":{"title":null}},
"strokeWidth":{"field":"s","type":"nominal","scale":{"type":"ordinal","domain":["Mean","Bounds","C0.08","C0.11","C1.04","C1.09"],"range":[4.5,1.2,1.2,1.2,1.2,1.2]},"legend":{"title":null}}
},
"layer":[
{"data":{"name":"bounds"},"mark":{"type":"line","interpolate":"step-after","clip":true},"encoding":{"detail":{"field":"p"}}},
{"data":{"name":"p2"},"mark":{"type":"line","strokeJoin":"round","strokeCap":"round"},"encoding":{}},
{"data":{"name":"mean"},"mark":{"type":"line","strokeJoin":"round","strokeCap":"round"},"encoding":{}}
]},
{"width":1224,"height":255,
"encoding":{
"x":{"field":"h","type":"quantitative","scale":{"domain":[-2,54],"nice":false,"zero":false},"axis":{"values":[0,24,48],"title":null,"labelFlush":false,"labelPadding":2,"labelExpr":"datum.value == 0 ? '2021−02−13' : datum.value == 24 ? '2021−02−14' : '2021−02−15'"}},
"y":{"field":"v","type":"quantitative","scale":{"domain":[14.6,25.4],"nice":false,"zero":false},"axis":{"values":[16,18,20,22,24],"title":"Temperature (°C)","labelAngle":-90,"labelAlign":"center","labelBaseline":"alphabetic","labelPadding":5,"titlePadding":17}},
"color":{"field":"s","type":"nominal","scale":{"domain":["Mean","Bounds","C0.07","C1.07","C2.01"],"range":["#000000","#000000","#000000","#DF536B","#61D04F"]},"legend":{"title":null}},
"strokeDash":{"field":"s","type":"nominal","scale":{"domain":["Mean","Bounds","C0.07","C1.07","C2.01"],"range":[[1,0],[5,4],[1,0],[1,0],[1,0]]},"legend":{"title":null}},
"strokeWidth":{"field":"s","type":"nominal","scale":{"type":"ordinal","domain":["Mean","Bounds","C0.07","C1.07","C2.01"],"range":[4.5,1.2,1.2,1.2,1.2]},"legend":{"title":null}}
},
"layer":[
{"data":{"name":"bounds"},"mark":{"type":"line","interpolate":"step-after","clip":true},"encoding":{"detail":{"field":"p"}}},
{"data":{"name":"p3"},"mark":{"type":"line","strokeJoin":"round","strokeCap":"round"},"encoding":{}},
{"data":{"name":"mean"},"mark":{"type":"line","strokeJoin":"round","strokeCap":"round"},"encoding":{}}
]}
]
}
